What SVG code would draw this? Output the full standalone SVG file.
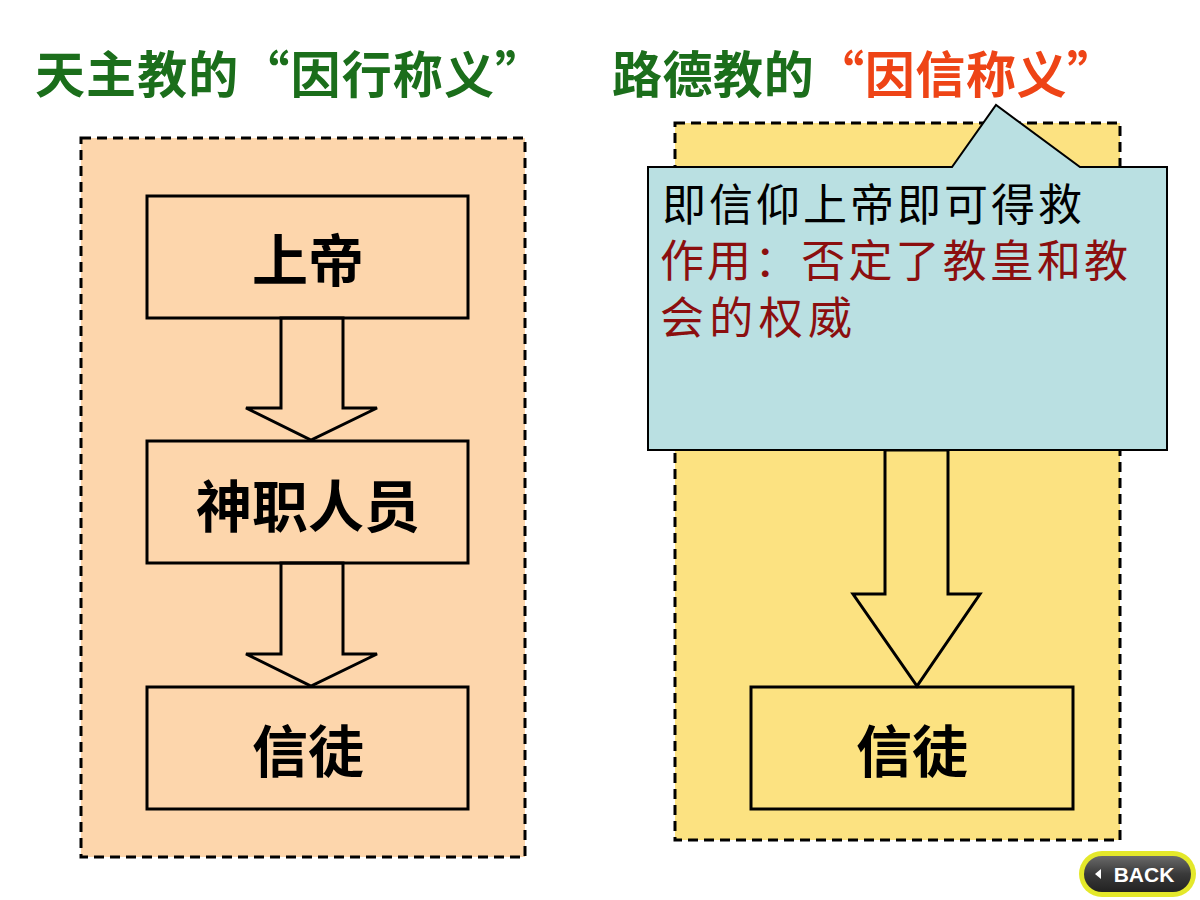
<svg xmlns="http://www.w3.org/2000/svg" width="1200" height="900" viewBox="0 0 1200 900">
<defs>
<style>
.title{font-family:"Noto Sans CJK SC","Liberation Sans",sans-serif;font-size:50px;font-weight:bold;fill:#1B6E1B}
.red{fill:#EE4416}
.frame{stroke:#000;stroke-width:3;stroke-dasharray:10 6}
.node{fill:none;stroke:#000;stroke-width:3}
.ntext{font-family:"Noto Sans CJK SC","Liberation Sans",sans-serif;font-size:56px;font-weight:bold;fill:#000;text-anchor:middle}
.arrow{stroke:#000;stroke-width:3;stroke-linejoin:miter}
.ctext{font-family:"Noto Sans CJK SC",sans-serif;font-size:44px}
</style>
<linearGradient id="btn" x1="0" y1="0" x2="0" y2="1">
<stop offset="0" stop-color="#6a6a6a"/>
<stop offset="0.5" stop-color="#3a3a3a"/>
<stop offset="1" stop-color="#222"/>
</linearGradient>
</defs>
<rect width="1200" height="900" fill="#fff"/>

<g id="titles">
<text class="title" x="35" y="93" textLength="510" lengthAdjust="spacing">天主教的“因行称义”</text>
<text class="title" x="612" y="93" textLength="505" lengthAdjust="spacing">路德教的<tspan class="red">“因信称义”</tspan></text>
</g>

<g id="left-frame">
<rect class="frame" x="81" y="138" width="444" height="719" fill="#FDD6AC"/>
</g>
<g id="right-frame">
<rect class="frame" x="675" y="123" width="445" height="717" fill="#FCE281"/>
</g>

<g id="connectors">
<polygon class="arrow" fill="#FDD6AC" points="281,318 343,318 343,408 377,408 311,440 246,408 281,408"/>
<polygon class="arrow" fill="#FDD6AC" points="281,563 343,563 343,654 377,654 311,686 246,654 281,654"/>
<polygon class="arrow" fill="#FCE281" points="885,450 948,450 948,594 980,594 917,686 853,594 885,594"/>
</g>

<g id="node-shangdi">
<rect class="node" x="147" y="196" width="321" height="122"/>
<text class="ntext" x="308" y="281">上帝</text>
</g>
<g id="node-shenzhi">
<rect class="node" x="147" y="441" width="321" height="122"/>
<text class="ntext" x="308" y="527">神职人员</text>
</g>
<g id="node-xintu-left">
<rect class="node" x="147" y="687" width="321" height="122"/>
<text class="ntext" x="308" y="772">信徒</text>
</g>
<g id="node-xintu-right">
<rect class="node" x="751" y="687" width="322" height="122"/>
<text class="ntext" x="912" y="772">信徒</text>
</g>

<g id="callout">
<path d="M648,167 L952,167 L996,105 L1080,167 L1167,167 L1167,450 L648,450 Z" fill="#BAE0E2" stroke="#000" stroke-width="2"/>
<text class="ctext" x="662" y="221" fill="#000" textLength="420" lengthAdjust="spacing">即信仰上帝即可得救</text>
<text class="ctext" x="660" y="277" fill="#8B0F0F" textLength="468" lengthAdjust="spacing">作用：否定了教皇和教</text>
<text class="ctext" x="660" y="334" fill="#8B0F0F" textLength="192" lengthAdjust="spacing">会的权威</text>
</g>

<g id="back-button">
<rect x="1079" y="851" width="117" height="46" rx="23" fill="#E4E82A"/>
<rect x="1084" y="856" width="107" height="36" rx="18" fill="url(#btn)"/>
<polygon points="1101,869 1101,879 1095,874" fill="#fff"/>
<text x="1144" y="882" font-family="Liberation Sans, Arial, sans-serif" font-size="21" font-weight="bold" fill="#fff" text-anchor="middle">BACK</text>
</g>
</svg>
